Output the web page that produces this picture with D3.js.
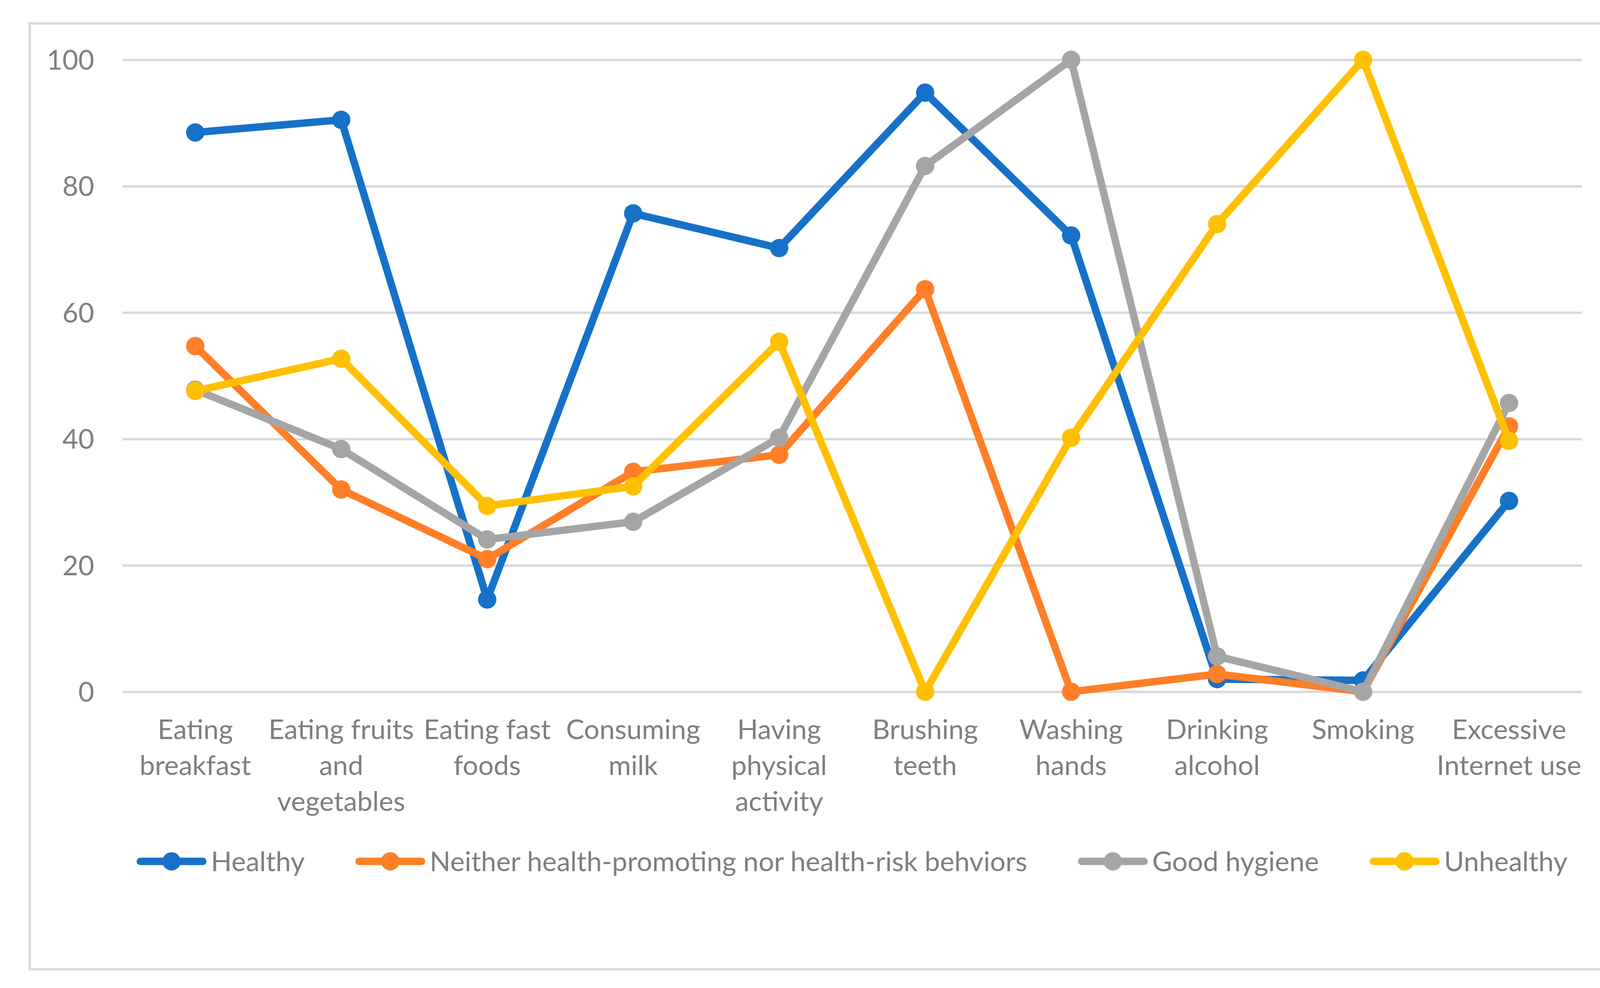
<!DOCTYPE html>
<html>
<head>
<meta charset="utf-8">
<script src="https://cdn.jsdelivr.net/npm/d3@7"></script>
<style>
  html, body { margin: 0; padding: 0; background: #ffffff; }
  svg { display: block; }
  text { font-family: Lato, "Open Sans", sans-serif; fill: #7F7F7F; }
</style>
</head>
<body>
<svg id="chart" width="4192" height="2528"></svg>
<script>
// ---- data ----
const categories = [
  "Eating\nbreakfast",
  "Eating fruits\nand\nvegetables",
  "Eating fast\nfoods",
  "Consuming\nmilk",
  "Having\nphysical\nactivity",
  "Brushing\nteeth",
  "Washing\nhands",
  "Drinking\nalcohol",
  "Smoking",
  "Excessive\nInternet use"
];
const seriesNames = [
  "Healthy",
  "Neither health-promoting nor health-risk behviors",
  "Good hygiene",
  "Unhealthy"
];
const healthy      = [88.5, 90.5, 14.6, 75.7, 70.2, 94.8, 72.2, 2.0, 1.8, 30.2];
const neither      = [54.7, 32.0, 21.0, 34.8, 37.5, 63.7, 0.0, 2.8, 0.0, 42.0];
const goodHygiene  = [47.8, 38.4, 24.1, 26.9, 40.2, 83.2, 100.0, 5.6, 0.0, 45.7];
const unhealthy    = [47.6, 52.7, 29.4, 32.5, 55.4, 0.0, 40.2, 74.0, 100.0, 39.7];
const yTicks = [0, 20, 40, 60, 80, 100];
const seriesColors = ["#1771C8", "#FF7F27", "#A5A5A5", "#FFC000"];

const seriesValues = [healthy, neither, goodHygiene, unhealthy];

// ---- layout ----
const frame = { x: 76, y: 60, w: 4064, h: 2420 };
const plot = { left: 313, right: 4050, top: 153, bottom: 1770 };
const fontSize = 70;
const textColor = "#7F7F7F";

const svg = d3.select("#chart");

svg.append("rect")
  .attr("x", frame.x).attr("y", frame.y)
  .attr("width", frame.w).attr("height", frame.h)
  .attr("fill", "#ffffff")
  .attr("stroke", "#D9D9D9").attr("stroke-width", 6);

const x = d3.scaleBand().domain(d3.range(categories.length))
  .range([plot.left, plot.right]).padding(0);
const y = d3.scaleLinear().domain([0, 100]).range([plot.bottom, plot.top]);
const cx = i => x(i) + x.bandwidth() / 2;

// gridlines + y labels
const yAxis = d3.axisLeft(y).tickValues(yTicks)
  .tickSize(-(plot.right - plot.left)).tickPadding(72).tickFormat(d3.format("d"));
const gy = svg.append("g").attr("transform", `translate(${plot.left},0)`).call(yAxis);
gy.select(".domain").remove();
gy.selectAll(".tick line").attr("stroke", "#D9D9D9").attr("stroke-width", 6);
gy.selectAll(".tick text")
  .attr("font-size", fontSize)
  .attr("fill", textColor)
  .attr("font-family", "Lato, 'Open Sans', sans-serif")
  .attr("dy", "0.35em");

// x category labels
const xl = svg.append("g");
categories.forEach((c, i) => {
  const t = xl.append("text")
    .attr("x", cx(i)).attr("y", 1891)
    .attr("text-anchor", "middle")
    .attr("font-size", fontSize);
  c.split("\n").forEach((line, k) => {
    t.append("tspan").attr("x", cx(i)).attr("y", 1891 + k * 92).text(line);
  });
});

// series lines and markers
const line = d3.line().x((d, i) => cx(i)).y(d => y(d));
seriesValues.forEach((vals, s) => {
  const g = svg.append("g");
  g.append("path")
    .attr("d", line(vals))
    .attr("fill", "none")
    .attr("stroke", seriesColors[s])
    .attr("stroke-width", 19)
    .attr("stroke-linejoin", "round")
    .attr("stroke-linecap", "round");
  g.selectAll("circle").data(vals).join("circle")
    .attr("cx", (d, i) => cx(i)).attr("cy", d => y(d))
    .attr("r", 23.5)
    .attr("fill", seriesColors[s]);
});

// legend
const legendY = 2204;
const lineLen = 178, textGap = 12, itemGap = 130;
const lg = svg.append("g");
const items = seriesNames.map((name, s) => {
  const g = lg.append("g");
  g.append("line").attr("x1", 9).attr("x2", lineLen - 9)
    .attr("y1", legendY).attr("y2", legendY)
    .attr("stroke", seriesColors[s]).attr("stroke-width", 19)
    .attr("stroke-linecap", "round");
  g.append("circle").attr("cx", lineLen / 2).attr("cy", legendY).attr("r", 23.5)
    .attr("fill", seriesColors[s]);
  const t = g.append("text").attr("x", lineLen + textGap).attr("y", legendY)
    .attr("dy", "0.35em").attr("font-size", fontSize).text(name);
  const w = lineLen + textGap + t.node().getComputedTextLength();
  return { g, w };
});
const total = d3.sum(items, d => d.w) + itemGap * (items.length - 1);
let cursor = (plot.left + plot.right) / 2 - total / 2;
items.forEach(it => {
  it.g.attr("transform", `translate(${cursor},0)`);
  cursor += it.w + itemGap;
});
</script>
</body>
</html>
